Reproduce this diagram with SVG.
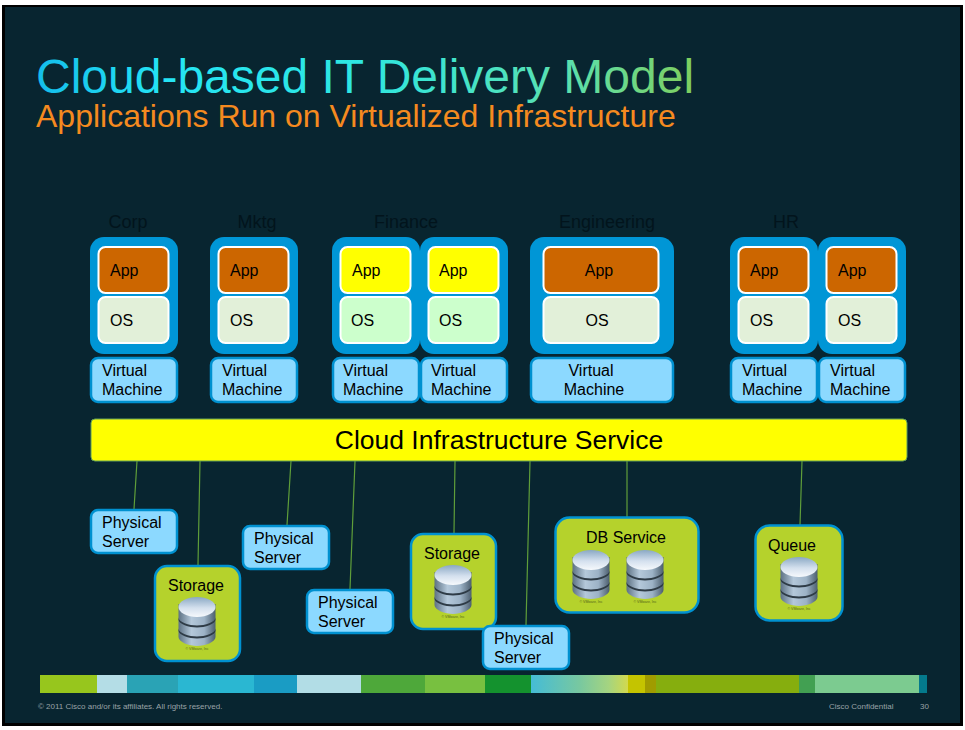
<svg xmlns="http://www.w3.org/2000/svg" xmlns:xlink="http://www.w3.org/1999/xlink" width="965" height="730" viewBox="0 0 965 730">
<style>
text{font-family:"Liberation Sans",Arial,sans-serif;fill:#000}
.hd{font-size:18px;fill:#02141c}
.vm{fill:#0096d6}
.app{fill:#cc6600;stroke:#fff;stroke-width:2}
.appy{fill:#ffff00;stroke:#fff;stroke-width:2}
.os{fill:#e2f0d9;stroke:#fff;stroke-width:2}
.osg{fill:#ccffcc;stroke:#fff;stroke-width:2}
.box{fill:#8cd9ff;stroke:#0091d0;stroke-width:2.500}
.gbox{fill:#b5d22c;stroke:#0091d0;stroke-width:2.500}
.t{font-size:16px}
.lnk{stroke:#5f9e3a;stroke-width:1.200;fill:none}
.ft{font-size:8px;fill:#9aa3a7}
.vmw{font-size:3.500px;fill:#55641a}
</style>
<defs>
<linearGradient id="title" gradientUnits="userSpaceOnUse" x1="36" y1="0" x2="694" y2="0">
<stop offset="0" stop-color="#14bdeb"/><stop offset="0.2" stop-color="#25e5f5"/><stop offset="0.5" stop-color="#2fe6e0"/><stop offset="0.8" stop-color="#5ae0b0"/><stop offset="1" stop-color="#7fcf5e"/>
</linearGradient>
<linearGradient id="band" x1="0" x2="1" y1="0" y2="0">
<stop offset="0" stop-color="#45bcd6"/><stop offset="0.5" stop-color="#78c8a0"/><stop offset="0.8" stop-color="#a5d480"/><stop offset="1" stop-color="#d2d94e"/>
</linearGradient>
<linearGradient id="dbTop" x1="0" x2="0" y1="0" y2="1">
<stop offset="0" stop-color="#8aa8c4"/><stop offset="0.55" stop-color="#d4e0ee"/><stop offset="1" stop-color="#f6f9fc"/>
</linearGradient>
<linearGradient id="dbSide" x1="0" x2="1" y1="0" y2="0">
<stop offset="0" stop-color="#5d7183"/><stop offset="0.35" stop-color="#b4c8da"/><stop offset="0.7" stop-color="#9cb2c6"/><stop offset="1" stop-color="#4c5e6e"/>
</linearGradient>
<g id="db">
<path d="M-18.500 4V37C-18.500 42 -8 46 0 46S18.500 42 18.500 37V4Z" fill="url(#dbSide)"/>
<path d="M-18.500 17.500C-18.500 22 -8 25.500 0 25.500S18.500 22 18.500 17.500V19.500C18.500 24 8 27.500 0 27.500S-18.500 24 -18.500 19.500Z" fill="#2e3b46"/>
<path d="M-18.500 28.500C-18.500 33 -8 36.500 0 36.500S18.500 33 18.500 28.500V30.500C18.500 35 8 38.500 0 38.500S-18.500 35 -18.500 30.500Z" fill="#2e3b46"/>
<ellipse cx="0" cy="7" rx="18.500" ry="10" fill="url(#dbTop)"/>
<text class="vmw" x="0" y="50" text-anchor="middle">© VMware, Inc</text>
</g>
</defs>
<rect width="965" height="730" fill="#fff"/>
<rect x="2" y="5" width="961" height="721" fill="#000"/>
<rect x="5" y="7" width="955" height="716" fill="#082530"/>
<g id="title-block">
<text x="36" y="92.500" font-size="48" style="fill:url(#title)">Cloud-based IT Delivery Model</text>
<text x="36" y="127" font-size="32" style="fill:#f58a1f">Applications Run on Virtualized Infrastructure</text>
</g>
<g id="connectors">
<path class="lnk" d="M137 461L134 509M200 461L198 565M291 461L287 525M355 461L350 589M455 461L454 533M530 461L526 625M627 461L627 517M802 461L800 525"/>
</g>
<g id="heading-labels">
<text class="hd" x="128" y="228" text-anchor="middle">Corp</text>
<text class="hd" x="257" y="228" text-anchor="middle">Mktg</text>
<text class="hd" x="406" y="228" text-anchor="middle">Finance</text>
<text class="hd" x="607" y="228" text-anchor="middle">Engineering</text>
<text class="hd" x="786" y="228" text-anchor="middle">HR</text>
</g>
<g id="vm-corp">
<rect class="vm" x="90" y="237" width="88" height="117" rx="14"/>
<rect class="app" x="98.500" y="247" width="70" height="46" rx="7"/><text class="t" x="110" y="276">App</text>
<rect class="os" x="98.500" y="297" width="70" height="46" rx="7"/><text class="t" x="110" y="326">OS</text>
<rect class="box" x="91" y="358" width="86" height="44" rx="7"/><text class="t" x="102" y="376">Virtual</text><text class="t" x="102" y="395">Machine</text>
</g>
<g id="vm-mktg">
<rect class="vm" x="210" y="237" width="88" height="117" rx="14"/>
<rect class="app" x="218.500" y="247" width="70" height="46" rx="7"/><text class="t" x="230" y="276">App</text>
<rect class="os" x="218.500" y="297" width="70" height="46" rx="7"/><text class="t" x="230" y="326">OS</text>
<rect class="box" x="211" y="358" width="86" height="44" rx="7"/><text class="t" x="222" y="376">Virtual</text><text class="t" x="222" y="395">Machine</text>
</g>
<g id="vm-finance-1">
<rect class="vm" x="332" y="237" width="88" height="117" rx="14"/>
<rect class="appy" x="340.500" y="247" width="70" height="46" rx="7"/><text class="t" x="352" y="276">App</text>
<rect class="osg" x="340.500" y="297" width="70" height="46" rx="7"/><text class="t" x="351" y="326">OS</text>
<rect class="box" x="333" y="358" width="86" height="44" rx="7"/><text class="t" x="343" y="376">Virtual</text><text class="t" x="343" y="395">Machine</text>
</g>
<g id="vm-finance-2">
<rect class="vm" x="420" y="237" width="88" height="117" rx="14"/>
<rect class="appy" x="428.500" y="247" width="70" height="46" rx="7"/><text class="t" x="439" y="276">App</text>
<rect class="osg" x="428.500" y="297" width="70" height="46" rx="7"/><text class="t" x="439" y="326">OS</text>
<rect class="box" x="421" y="358" width="86" height="44" rx="7"/><text class="t" x="431" y="376">Virtual</text><text class="t" x="431" y="395">Machine</text>
</g>
<g id="vm-engineering">
<rect class="vm" x="530" y="237" width="144" height="117" rx="14"/>
<rect class="app" x="543.500" y="247" width="115" height="46" rx="7"/><text class="t" x="599" y="276" text-anchor="middle">App</text>
<rect class="os" x="543.500" y="297" width="115" height="46" rx="7"/><text class="t" x="597" y="326" text-anchor="middle">OS</text>
<rect class="box" x="531" y="358" width="142" height="44" rx="7"/><text class="t" x="591" y="376" text-anchor="middle">Virtual</text><text class="t" x="594" y="395" text-anchor="middle">Machine</text>
</g>
<g id="vm-hr-1">
<rect class="vm" x="730" y="237" width="88" height="117" rx="14"/>
<rect class="app" x="738.500" y="247" width="70" height="46" rx="7"/><text class="t" x="750" y="276">App</text>
<rect class="os" x="738.500" y="297" width="70" height="46" rx="7"/><text class="t" x="750" y="326">OS</text>
<rect class="box" x="731" y="358" width="86" height="44" rx="7"/><text class="t" x="742" y="376">Virtual</text><text class="t" x="742" y="395">Machine</text>
</g>
<g id="vm-hr-2">
<rect class="vm" x="818" y="237" width="88" height="117" rx="14"/>
<rect class="app" x="826.500" y="247" width="70" height="46" rx="7"/><text class="t" x="838" y="276">App</text>
<rect class="os" x="826.500" y="297" width="70" height="46" rx="7"/><text class="t" x="838" y="326">OS</text>
<rect class="box" x="819" y="358" width="86" height="44" rx="7"/><text class="t" x="830" y="376">Virtual</text><text class="t" x="830" y="395">Machine</text>
</g>
<g id="cloud-service">
<rect x="91" y="419" width="816" height="42" rx="4" fill="#ffff00" stroke="#5f9e5a" stroke-width="1"/>
<text x="499" y="449" font-size="26.500" text-anchor="middle">Cloud Infrastructure Service</text>
</g>
<g id="server-1"><rect class="box" x="91" y="510" width="86" height="43" rx="7"/><text class="t" x="102" y="528">Physical</text><text class="t" x="102" y="547">Server</text></g>
<g id="server-2"><rect class="box" x="243" y="526" width="86" height="43" rx="7"/><text class="t" x="254" y="544">Physical</text><text class="t" x="254" y="563">Server</text></g>
<g id="server-3"><rect class="box" x="307" y="590" width="86" height="43" rx="7"/><text class="t" x="318" y="608">Physical</text><text class="t" x="318" y="627">Server</text></g>
<g id="storage-1"><rect class="gbox" x="155" y="566" width="85" height="95" rx="12"/><text class="t" x="196" y="591" text-anchor="middle">Storage</text><use xlink:href="#db" href="#db" x="197" y="600"/></g>
<g id="storage-2"><rect class="gbox" x="411" y="534" width="85" height="95" rx="12"/><text class="t" x="452" y="559" text-anchor="middle">Storage</text><use xlink:href="#db" href="#db" x="453" y="568"/></g>
<g id="server-4"><rect class="box" x="483" y="626" width="86" height="43" rx="7"/><text class="t" x="494" y="644">Physical</text><text class="t" x="494" y="663">Server</text></g>
<g id="db-service"><rect class="gbox" x="555.500" y="517.500" width="143" height="95" rx="14"/><text class="t" x="626" y="543" text-anchor="middle">DB Service</text><use xlink:href="#db" href="#db" x="591" y="553"/><use xlink:href="#db" href="#db" x="645" y="553"/></g>
<g id="queue"><rect class="gbox" x="755.500" y="525.500" width="87" height="95" rx="14"/><text class="t" x="792" y="551" text-anchor="middle">Queue</text><use xlink:href="#db" href="#db" x="799" y="560"/></g>
<g id="color-band">
<rect x="40" y="675" width="57" height="18" fill="#97c61d"/>
<rect x="97" y="675" width="30" height="18" fill="#b4dde6"/>
<rect x="127" y="675" width="51" height="18" fill="#2aa3b5"/>
<rect x="178" y="675" width="76" height="18" fill="#2ab7d2"/>
<rect x="254" y="675" width="43" height="18" fill="#1a9cc4"/>
<rect x="297" y="675" width="64" height="18" fill="#b2dde6"/>
<rect x="361" y="675" width="64" height="18" fill="#4ea83a"/>
<rect x="425" y="675" width="60" height="18" fill="#78c040"/>
<rect x="485" y="675" width="46" height="18" fill="#14922e"/>
<rect x="531" y="675" width="97" height="18" fill="url(#band)"/>
<rect x="628" y="675" width="17" height="18" fill="#c4c400"/>
<rect x="645" y="675" width="11" height="18" fill="#a09c00"/>
<rect x="656" y="675" width="143" height="18" fill="#86ae0e"/>
<rect x="799" y="675" width="16" height="18" fill="#42a052"/>
<rect x="815" y="675" width="104" height="18" fill="#7ccb90"/>
<rect x="919" y="675" width="8" height="18" fill="#047a8c"/>
</g>
<g id="footer">
<text class="ft" x="38" y="709">© 2011 Cisco and/or its affiliates. All rights reserved.</text>
<text class="ft" x="829" y="709">Cisco Confidential</text>
<text class="ft" x="920" y="709">30</text>
</g>
</svg>
